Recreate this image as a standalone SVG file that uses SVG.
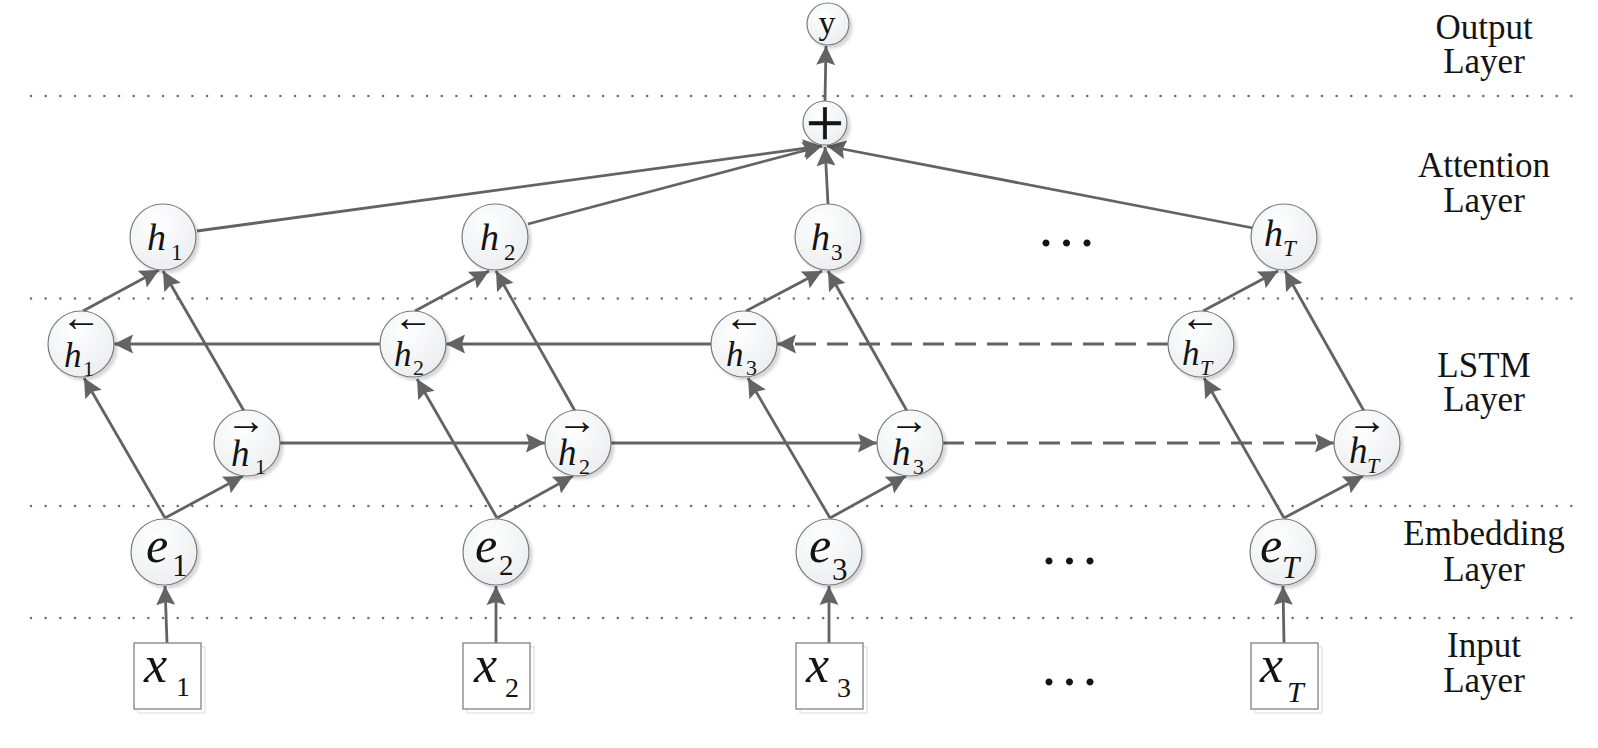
<svg xmlns="http://www.w3.org/2000/svg" width="1598" height="748" viewBox="0 0 1598 748">
<style>
.dots{stroke:#6e6e6e;stroke-width:2.6;stroke-linecap:round;stroke-dasharray:0 14.67;fill:none}
.c{stroke:#636363;stroke-width:2.8;fill:none;marker-end:url(#ah)}
.d{stroke-dasharray:21 11}
.n circle{fill:url(#g);stroke:#7a7a7a;stroke-width:1.2;filter:url(#sh)}
.box .s{fill:#fff;stroke:#e2e2e2;stroke-width:1.2}
.box .f{fill:#fff;stroke:#8a8a8a;stroke-width:1.4}
text{font-family:"Liberation Serif","Times New Roman",serif;fill:#141414}
.i{font-style:italic}
.u{font-style:normal}
.lbl{font-size:35px;text-anchor:middle}
.ar{font-size:40px;text-anchor:middle;font-style:normal}
.el{font-size:60px;letter-spacing:5.5px}
</style>
<defs>
<marker id="ah" markerUnits="userSpaceOnUse" markerWidth="20" markerHeight="20" viewBox="0 0 20 20" refX="19" refY="10" orient="auto">
<path d="M0,0.5 L19,10 L0,19.5 L3,10 z" fill="#636363"/>
</marker>
<radialGradient id="g" cx="0.4" cy="0.3" r="0.8">
<stop offset="0" stop-color="#ffffff"/>
<stop offset="1" stop-color="#e9ecef"/>
</radialGradient>
<filter id="sh" x="-30%" y="-30%" width="170%" height="170%">
<feDropShadow dx="3" dy="3" stdDeviation="1.6" flood-color="#000" flood-opacity="0.16"/>
</filter>
</defs>

<g id="separators">
<line class="dots" x1="31" y1="96" x2="1575" y2="96"/>
<line class="dots" x1="31" y1="298.5" x2="1575" y2="298.5"/>
<line class="dots" x1="31" y1="506" x2="1575" y2="506"/>
<line class="dots" x1="31" y1="618" x2="1575" y2="618"/>
</g>

<g id="layer-labels">
<text class="lbl" x="1484" y="39">Output</text>
<text class="lbl" x="1484" y="73">Layer</text>
<text class="lbl" x="1484" y="177">Attention</text>
<text class="lbl" x="1484" y="212">Layer</text>
<text class="lbl" x="1484" y="377">LSTM</text>
<text class="lbl" x="1484" y="411">Layer</text>
<text class="lbl" x="1484" y="545">Embedding</text>
<text class="lbl" x="1484" y="581">Layer</text>
<text class="lbl" x="1484" y="657">Input</text>
<text class="lbl" x="1484" y="692">Layer</text>
</g>

<g id="connectors">
<line class="c" x1="167" y1="643" x2="165" y2="586"/>
<line class="c" x1="496" y1="643" x2="496" y2="586"/>
<line class="c" x1="829" y1="643" x2="829" y2="586"/>
<line class="c" x1="1284" y1="643" x2="1283" y2="586"/>
<line class="c" x1="165" y1="518" x2="84" y2="378"/>
<line class="c" x1="165" y1="518" x2="243" y2="476"/>
<line class="c" x1="497" y1="518" x2="417" y2="379"/>
<line class="c" x1="497" y1="518" x2="573" y2="476"/>
<line class="c" x1="830" y1="518" x2="748" y2="378"/>
<line class="c" x1="830" y1="518" x2="906" y2="476"/>
<line class="c" x1="1284" y1="518" x2="1204" y2="378"/>
<line class="c" x1="1284" y1="518" x2="1363" y2="476"/>
<line class="c" x1="83" y1="311" x2="159" y2="270"/>
<line class="c" x1="244" y1="411" x2="163" y2="271"/>
<line class="c" x1="415" y1="311" x2="489" y2="271"/>
<line class="c" x1="575" y1="411" x2="496" y2="271"/>
<line class="c" x1="746" y1="311" x2="822" y2="271"/>
<line class="c" x1="907" y1="411" x2="828" y2="271"/>
<line class="c" x1="1203" y1="311" x2="1278" y2="271"/>
<line class="c" x1="1364" y1="411" x2="1285" y2="271"/>
<line class="c" x1="380" y1="344" x2="114" y2="344"/>
<line class="c" x1="711" y1="344" x2="446" y2="344"/>
<line class="c d" x1="1168" y1="344" x2="777" y2="344"/>
<line class="c" x1="280" y1="443" x2="545" y2="443"/>
<line class="c" x1="611" y1="443" x2="877" y2="443"/>
<line class="c d" x1="943" y1="443" x2="1334" y2="443"/>
<line class="c" x1="197" y1="231" x2="822" y2="146"/>
<line class="c" x1="528" y1="224" x2="822" y2="146"/>
<line class="c" x1="828" y1="204" x2="825" y2="147"/>
<line class="c" x1="1253" y1="228" x2="827" y2="146"/>
<line class="c" x1="825" y1="101" x2="826" y2="46"/>
</g>

<g id="y" class="n">
<circle cx="828" cy="24" r="21"/>
<text x="827" y="34" font-size="34" text-anchor="middle">y</text>
</g>
<g id="sum" class="n">
<circle cx="825" cy="123" r="22"/>
<text x="825" y="146" font-size="68" text-anchor="middle" stroke="#141414" stroke-width="0.6">+</text>
</g>

<g id="h1" class="n"><circle cx="163" cy="237" r="33"/>
<text class="i" font-size="38"><tspan x="147" y="250">h</tspan><tspan class="u" x="171" y="260" font-size="23">1</tspan></text></g>
<g id="h2" class="n"><circle cx="495" cy="237" r="33"/>
<text class="i" font-size="38"><tspan x="480" y="250">h</tspan><tspan class="u" x="504" y="260" font-size="23">2</tspan></text></g>
<g id="h3" class="n"><circle cx="828" cy="237" r="33"/>
<text class="i" font-size="38"><tspan x="811" y="250">h</tspan><tspan class="u" x="831" y="260" font-size="23">3</tspan></text></g>
<g id="hT" class="n"><circle cx="1284" cy="237" r="33"/>
<text class="i" font-size="38"><tspan x="1264" y="246">h</tspan><tspan x="1283" y="256" font-size="23">T</tspan></text></g>

<g id="hb1" class="n"><circle cx="81" cy="344" r="33"/>
<text class="ar" x="81" y="331">←</text>
<text class="i" font-size="35"><tspan x="64" y="367">h</tspan><tspan class="u" x="83" y="376" font-size="22">1</tspan></text></g>
<g id="hb2" class="n"><circle cx="413" cy="344" r="33"/>
<text class="ar" x="413" y="331">←</text>
<text class="i" font-size="35"><tspan x="394" y="366">h</tspan><tspan class="u" x="413" y="375" font-size="22">2</tspan></text></g>
<g id="hb3" class="n"><circle cx="744" cy="344" r="33"/>
<text class="ar" x="744" y="331">←</text>
<text class="i" font-size="35"><tspan x="726" y="366">h</tspan><tspan class="u" x="746" y="375" font-size="22">3</tspan></text></g>
<g id="hbT" class="n"><circle cx="1201" cy="344" r="33"/>
<text class="ar" x="1200" y="331">←</text>
<text class="i" font-size="35"><tspan x="1182" y="365">h</tspan><tspan x="1200" y="375" font-size="22">T</tspan></text></g>

<g id="hf1" class="n"><circle cx="247" cy="443" r="33"/>
<text class="ar" x="246" y="434">→</text>
<text class="i" font-size="37"><tspan x="231" y="466">h</tspan><tspan class="u" x="255" y="474" font-size="22">1</tspan></text></g>
<g id="hf2" class="n"><circle cx="578" cy="443" r="33"/>
<text class="ar" x="577" y="434">→</text>
<text class="i" font-size="37"><tspan x="558" y="465">h</tspan><tspan class="u" x="579" y="474" font-size="22">2</tspan></text></g>
<g id="hf3" class="n"><circle cx="910" cy="443" r="33"/>
<text class="ar" x="909" y="434">→</text>
<text class="i" font-size="37"><tspan x="892" y="465">h</tspan><tspan class="u" x="913" y="474" font-size="22">3</tspan></text></g>
<g id="hfT" class="n"><circle cx="1367" cy="443" r="33"/>
<text class="ar" x="1367" y="434">→</text>
<text class="i" font-size="37"><tspan x="1349" y="463">h</tspan><tspan x="1367" y="473" font-size="22">T</tspan></text></g>

<g id="e1" class="n"><circle cx="164" cy="552" r="33"/>
<text class="i" font-size="50"><tspan x="146" y="562">e</tspan><tspan class="u" x="172" y="576" font-size="31">1</tspan></text></g>
<g id="e2" class="n"><circle cx="496" cy="552" r="33"/>
<text class="i" font-size="50"><tspan x="475" y="562">e</tspan><tspan class="u" x="499" y="575" font-size="29">2</tspan></text></g>
<g id="e3" class="n"><circle cx="829" cy="552" r="33"/>
<text class="i" font-size="50"><tspan x="809" y="562">e</tspan><tspan class="u" x="832" y="580" font-size="31">3</tspan></text></g>
<g id="eT" class="n"><circle cx="1283" cy="552" r="33"/>
<text class="i" font-size="50"><tspan x="1260" y="562">e</tspan><tspan x="1282" y="578" font-size="31">T</tspan></text></g>

<g id="x1" class="box"><rect class="s" x="138" y="647" width="67" height="66"/><rect class="f" x="134" y="643" width="67" height="66"/>
<text class="i" font-size="52"><tspan x="144" y="682">x</tspan><tspan class="u" x="176" y="696" font-size="28">1</tspan></text></g>
<g id="x2" class="box"><rect class="s" x="467" y="647" width="67" height="66"/><rect class="f" x="463" y="643" width="67" height="66"/>
<text class="i" font-size="52"><tspan x="474" y="682">x</tspan><tspan class="u" x="505" y="697" font-size="28">2</tspan></text></g>
<g id="x3" class="box"><rect class="s" x="800" y="647" width="67" height="66"/><rect class="f" x="796" y="643" width="67" height="66"/>
<text class="i" font-size="52"><tspan x="806" y="682">x</tspan><tspan class="u" x="837" y="697" font-size="28">3</tspan></text></g>
<g id="xT" class="box"><rect class="s" x="1255" y="647" width="67" height="66"/><rect class="f" x="1251" y="643" width="67" height="66"/>
<text class="i" font-size="52"><tspan x="1260" y="682">x</tspan><tspan x="1287" y="702" font-size="30">T</tspan></text></g>

<g id="ellipses">
<text class="el" x="1038.5" y="246">...</text>
<text class="el" x="1041.5" y="564">...</text>
<text class="el" x="1041.5" y="685">...</text>
</g>
</svg>
